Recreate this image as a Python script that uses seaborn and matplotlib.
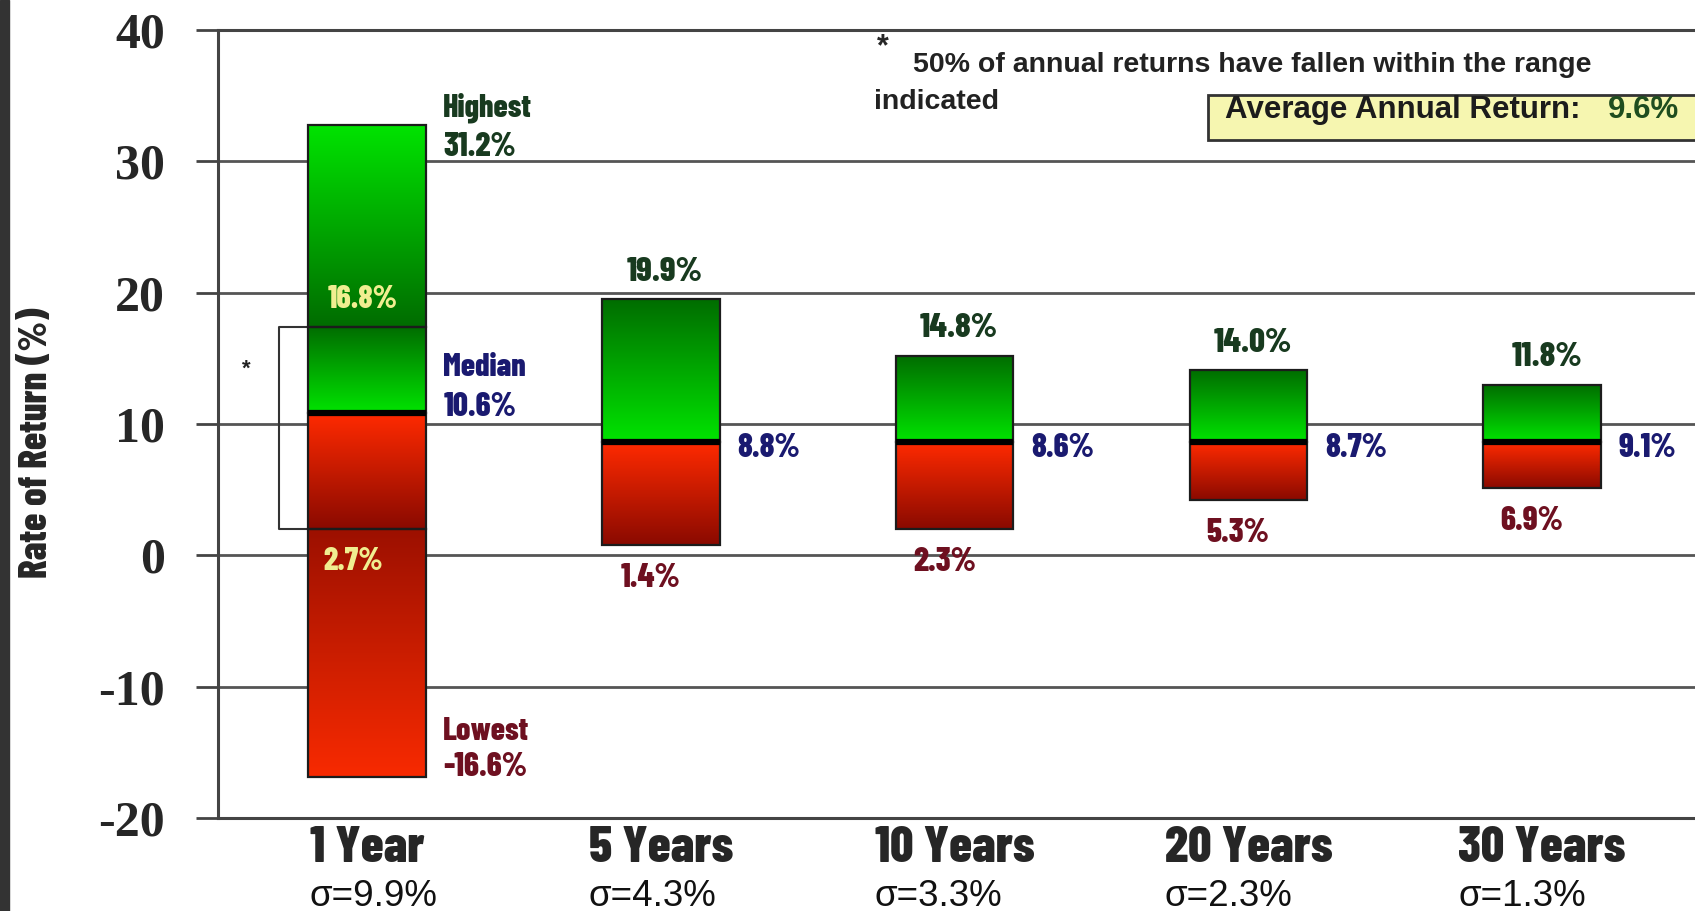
import numpy as np
import pandas as pd
import seaborn as sns
import matplotlib
matplotlib.use("Agg")
import matplotlib.pyplot as plt
from matplotlib.colors import LinearSegmentedColormap
from matplotlib.patches import Rectangle
from matplotlib import font_manager as fm

# ---------------- data ----------------
periods = ["1 Year", "5 Years", "10 Years", "20 Years", "30 Years"]
sigmas = ["σ=9.9%", "σ=4.3%", "σ=3.3%", "σ=2.3%", "σ=1.3%"]
# printed values
highest = [31.2, 19.9, 14.8, 14.0, 11.8]
median = [10.6, 8.8, 8.6, 8.7, 9.1]
lowest = [-16.6, 1.4, 2.3, 5.3, 6.9]
quartiles_1yr = [16.8, 2.7]
avg_return = 9.6
# bar extents as drawn in the picture
bar_top = [32.8, 19.5, 15.2, 14.1, 13.0]
bar_mid = [10.8, 8.6, 8.6, 8.6, 8.6]
bar_bottom = [-16.9, 0.8, 2.0, 4.2, 5.1]
box_1yr = [17.4, 2.0]

# ---------------- style ----------------
sns.set_style("white")
plt.rcParams["font.family"] = ["Liberation Sans", "DejaVu Sans"]

ttf = fm.fontManager.ttflist
names = {f.name for f in ttf}
COND = None
for cand, scale in [("Barlow Condensed", 1.0), ("Fira Sans Extra Condensed", 1.0),
                    ("Archivo Narrow", 0.9), ("Fira Sans Condensed", 0.85)]:
    if cand in names:
        COND = dict(family=cand, weight=800); CS = scale
        break
if COND is None:
    COND = dict(family="DejaVu Sans", weight="bold"); CS = 0.7


def cf(size):
    d = dict(COND)
    d["fontsize"] = size * CS
    return d


C_HI = "#183a1f"
C_MED = "#1a1a70"
C_LO = "#6e1020"
C_IN = "#f0ee90"
G_BRIGHT, G_DARK = "#00e400", "#006c00"
R_BRIGHT, R_DARK = "#ff2a00", "#8a0a00"
SHADES = {
    "g_down": (G_BRIGHT, G_DARK),
    "g_up": (G_DARK, G_BRIGHT),
    "r_down": (R_BRIGHT, R_DARK),
    "r_up": ("#9c1000", "#f82a00"),
}

fig = plt.figure(figsize=(16.95, 9.11), dpi=100)
ax = fig.add_axes([218 / 1695, 1 - 818 / 911, 1 - 218 / 1695, (818 - 30) / 911])

# ---------------- segments ----------------
seg_rows = []
for i, p in enumerate(periods):
    if i == 0:
        seg_rows.append((p, box_1yr[0], bar_top[i], "g_down"))
        seg_rows.append((p, bar_mid[i], box_1yr[0], "g_up"))
        seg_rows.append((p, box_1yr[1], bar_mid[i], "r_down"))
        seg_rows.append((p, bar_bottom[i], box_1yr[1], "r_up"))
    else:
        seg_rows.append((p, bar_mid[i], bar_top[i], "g_up"))
        seg_rows.append((p, bar_bottom[i], bar_mid[i], "r_down"))
segs = pd.DataFrame(seg_rows, columns=["period", "low", "high", "shade"])
segs["span"] = segs["high"] - segs["low"]

grad = np.linspace(0, 1, 256).reshape(-1, 1)
red_upper = {}
for shade, sub in segs.groupby("shade", sort=False):
    n0 = len(ax.patches)
    sns.barplot(data=sub, x="period", y="span", order=periods, width=0.4,
                errorbar=None, color="white", ax=ax, zorder=3)
    for patch in list(ax.patches[n0:]):
        idx = int(round(patch.get_x() + patch.get_width() / 2))
        row = sub[sub["period"] == periods[idx]]
        if row.empty or not np.isfinite(patch.get_height()):
            patch.remove()
            continue
        patch.set_y(row["low"].iloc[0])
        patch.set_height(row["span"].iloc[0])
        patch.set_facecolor((0, 0, 0, 0))
        patch.set_edgecolor("#1c1c1c")
        patch.set_linewidth(1.6)
        ctop, cbot = SHADES[shade]
        cmap = LinearSegmentedColormap.from_list(shade, [cbot, ctop])
        x0, y0 = patch.get_x(), patch.get_y()
        im = ax.imshow(grad, cmap=cmap, origin="lower", aspect="auto",
                       extent=[x0, x0 + patch.get_width(), y0, y0 + patch.get_height()],
                       zorder=2, interpolation="bilinear")
        im.set_clip_path(patch)
        if shade == "r_down":
            red_upper[idx] = patch

# median black lines
for idx, patch in red_upper.items():
    top = patch.get_y() + patch.get_height()
    ax.plot([patch.get_x(), patch.get_x() + patch.get_width()], [top, top],
            color="black", lw=4.5, solid_capstyle="butt", zorder=4)

# bracket for the 1-year interquartile range
p0 = red_upper[0]
bx = p0.get_x() - 0.1
ax.plot([p0.get_x(), bx, bx, p0.get_x()], [box_1yr[0], box_1yr[0], box_1yr[1], box_1yr[1]],
        color="#333333", lw=1.5, zorder=1.5)
ax.text(bx - 0.11, box_1yr[0] - 3.2, "*", ha="center", va="center", fontsize=16,
        weight="bold", color="#222")

# ---------------- labels ----------------
right_off = 0.26
ax.text(right_off, bar_top[0] + 1.3, "Highest", color=C_HI, ha="left", va="center", **cf(23))
ax.text(right_off, bar_top[0] - 1.7, f"{highest[0]:.1f}%", color=C_HI, ha="left", va="center", **cf(24))
ax.text(right_off, bar_mid[0] + 3.5, "Median", color=C_MED, ha="left", va="center", **cf(23))
ax.text(right_off, bar_mid[0] + 0.5, f"{median[0]:.1f}%", color=C_MED, ha="left", va="center", **cf(24))
ax.text(right_off, bar_bottom[0] + 3.5, "Lowest", color=C_LO, ha="left", va="center", **cf(23))
ax.text(right_off, bar_bottom[0] + 0.8, f"{lowest[0]:.1f}%", color=C_LO, ha="left", va="center", **cf(24))
ax.text(-0.014, box_1yr[0] + 2.1, f"{quartiles_1yr[0]:.1f}%", color=C_IN, ha="center", va="center", **cf(23))
ax.text(-0.048, box_1yr[1] - 2.5, f"{quartiles_1yr[1]:.1f}%", color=C_IN, ha="center", va="center", **cf(23))

for i in range(1, len(periods)):
    ax.text(i + 0.015, bar_top[i] + 2.1, f"{highest[i]:.1f}%", color=C_HI, ha="center", va="center", **cf(25))
    ax.text(i + right_off, bar_mid[i] - 0.4, f"{median[i]:.1f}%", color=C_MED, ha="left", va="center", **cf(24))
    ax.text(i - 0.035, bar_bottom[i] - 2.5, f"{lowest[i]:.1f}%", color=C_LO, ha="center", va="center", **cf(24))

# ---------------- axes ----------------
ax.set_ylim(-20, 40)
ax.set_xlim(-0.507, 4.52)
ax.set_yticks(range(-20, 41, 10))
ax.set_yticklabels([str(v) for v in range(-20, 41, 10)], family="Liberation Serif",
                   weight="bold", fontsize=36)
ax.yaxis.grid(True, color="#555555", lw=2)
ax.xaxis.grid(False)
ax.set_axisbelow(True)
ax.tick_params(axis="y", left=True, length=16, width=2, color="#444444", pad=22, direction="out")
ax.tick_params(axis="x", bottom=False, length=0, pad=6)
ax.set_xticks(range(len(periods)))
ax.set_xticklabels(periods, **cf(37))
ax.set_xlabel("")
ax.set_ylabel("Rate of Return (%)", **cf(28))
ax.yaxis.set_label_coords(-0.111, 0.476)
for s in ["left", "bottom", "top"]:
    ax.spines[s].set_visible(True)
    ax.spines[s].set_color("#444444")
    ax.spines[s].set_linewidth(2.2)
ax.spines["right"].set_visible(False)

# footnote and average box
ax.text(0.450, 0.978, "*", transform=ax.transAxes, ha="center", va="center", fontsize=22, weight="bold")
ax.text(0.4706, 0.9467, "50% of annual returns have fallen within the range", transform=ax.transAxes,
        ha="left", va="baseline", fontsize=20.5, weight="bold", color="#222")
ax.text(0.444, 0.900, "indicated", transform=ax.transAxes, ha="left", va="baseline",
        fontsize=20.5, weight="bold", color="#222")
ax.add_patch(Rectangle((0.6703, 0.860), 0.40, 0.0575, transform=ax.transAxes, clip_on=False,
                       facecolor="#f6f6b0", edgecolor="#333333", lw=2, zorder=5))
ax.text(0.6818, 0.888, "Average Annual Return:", transform=ax.transAxes, ha="left", va="baseline",
        fontsize=22.5, weight="bold", color="#1c1c1c", zorder=6)
ax.text(0.941, 0.888, f"{avg_return:.1f}%", transform=ax.transAxes, ha="left", va="baseline",
        fontsize=22.5, weight="bold", color="#1f4d1f", zorder=6)

# sigma labels aligned to the left edge of each category label
fig.canvas.draw()
inv = ax.transAxes.inverted()
for lbl, s in zip(ax.get_xticklabels(), sigmas):
    bb = lbl.get_window_extent()
    xf = inv.transform((bb.x0, 0))[0]
    ax.text(xf, -0.1115, s, transform=ax.transAxes, ha="left", va="baseline", fontsize=26.5,
            family="Liberation Sans", color="#111")

# left dark border of the picture
fig.patches.append(Rectangle((0, 0), 9 / 1695, 1, transform=fig.transFigure, color="#333333", zorder=10))

fig.savefig("out.png", dpi=100)
